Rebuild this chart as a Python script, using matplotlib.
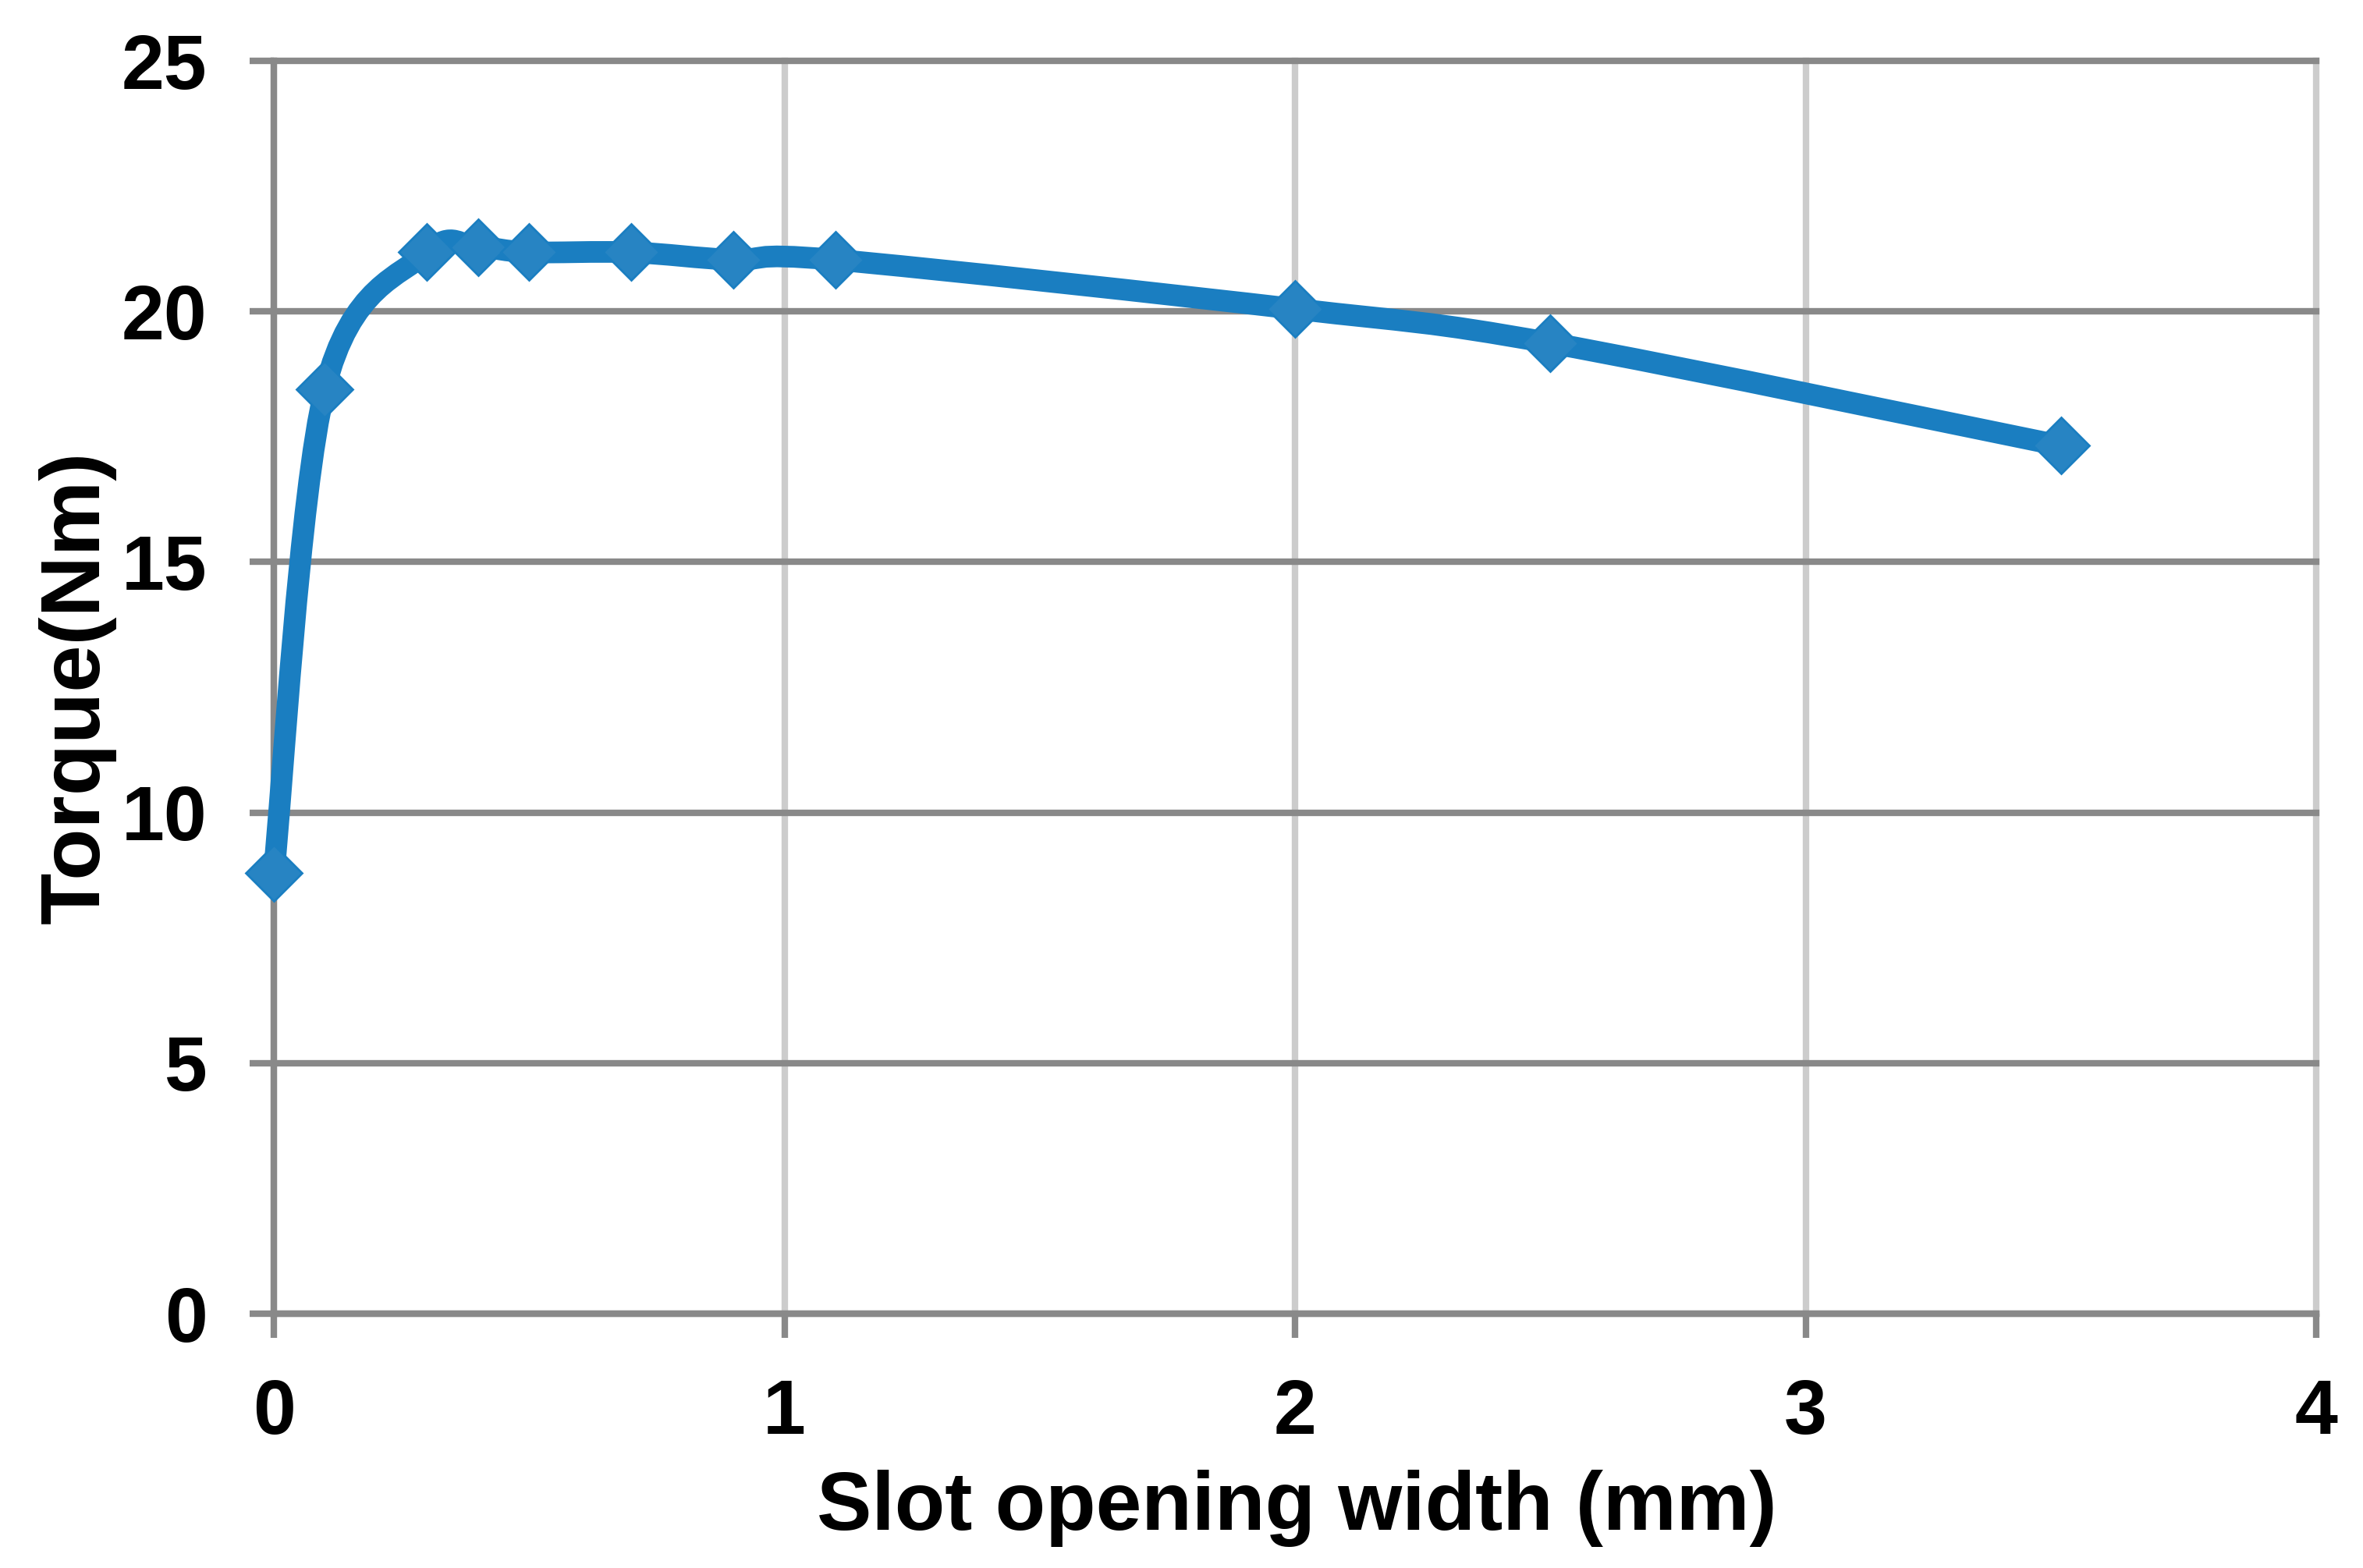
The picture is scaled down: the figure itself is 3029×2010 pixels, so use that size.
import numpy as np
import matplotlib
matplotlib.use("Agg")
import matplotlib.pyplot as plt
from matplotlib.path import Path
from matplotlib.patches import PathPatch

# ---- data ----
slot_width = [0.0, 0.1, 0.3, 0.4, 0.5, 0.7, 0.9, 1.1, 2.0, 2.5, 3.5]
torque = [8.8, 18.45, 21.18, 21.28, 21.18, 21.18, 21.03, 21.03, 20.05, 19.37, 17.32]
x_ticks = [0, 1, 2, 3, 4]
y_ticks = [0, 5, 10, 15, 20, 25]
x_label = "Slot opening width (mm)"
y_label = "Torque(Nm)"

plt.rcParams['font.family'] = ['Liberation Sans', 'DejaVu Sans']
plt.rcParams['font.weight'] = 'bold'

DPI = 200
fig = plt.figure(figsize=(3029 / DPI, 2010 / DPI), dpi=DPI)
ax = fig.add_axes([351 / 3029, 1 - 1684 / 2010, (2969 - 351) / 3029, (1684 - 78) / 2010])

LINE_C = '#1a7ec1'
FACE_C = '#2784c3'
DARK = '#898989'
LIGHT = '#cccccc'
LW = 3.0

ax.set_xlim(0, 4)
ax.set_ylim(0, 25)
ax.set_xticks(x_ticks)
ax.set_yticks(y_ticks)

ax.yaxis.grid(True, color=DARK, linewidth=LW, clip_on=False, zorder=1)
ax.xaxis.grid(True, color=LIGHT, linewidth=LW, clip_on=False, zorder=0.5)
ax.set_axisbelow(True)

for s in ['top', 'right']:
    ax.spines[s].set_visible(False)
for s in ['left', 'bottom']:
    ax.spines[s].set_color(DARK)
    ax.spines[s].set_linewidth(LW)

ax.tick_params(axis='y', length=11, width=LW, color=DARK, pad=19.8, labelsize=35.5, direction='out')
ax.tick_params(axis='x', length=11, width=LW, color=DARK, pad=18.7, labelsize=35.5, direction='out')
for lab in ax.get_xticklabels() + ax.get_yticklabels():
    lab.set_fontweight('bold')

# smooth (Excel-like) curve through the points: cubic Bezier, Catmull-Rom control points
pts = np.column_stack([slot_width, torque])
n = len(pts)
verts = [pts[0]]
codes = [Path.MOVETO]
for i in range(n - 1):
    p0 = pts[i - 1] if i > 0 else pts[i]
    p1 = pts[i]
    p2 = pts[i + 1]
    p3 = pts[i + 2] if i + 2 < n else pts[i + 1]
    c1 = p1 + (p2 - p0) / 6.0
    c2 = p2 - (p3 - p1) / 6.0
    verts += [c1, c2, p2]
    codes += [Path.CURVE4] * 3
curve = PathPatch(Path(verts, codes), fill=False, edgecolor=LINE_C, linewidth=10.0,
                  capstyle='round', joinstyle='round', zorder=3, clip_on=False)
ax.add_patch(curve)

ax.plot(slot_width, torque, linestyle='none', marker='D', markersize=18.5,
        markerfacecolor=FACE_C, markeredgecolor=LINE_C, markeredgewidth=1.0,
        zorder=4, clip_on=False)

fig.text(1662 / 3029, 1 - 1961 / 2010, x_label, ha='center', va='baseline',
         fontsize=38, fontweight='bold')
fig.text(127 / 3029, 1 - 881 / 2010, y_label, ha='center', va='baseline',
         rotation=90, rotation_mode='anchor', fontsize=39, fontweight='bold')

fig.savefig('out.png', dpi=DPI, facecolor='white')
